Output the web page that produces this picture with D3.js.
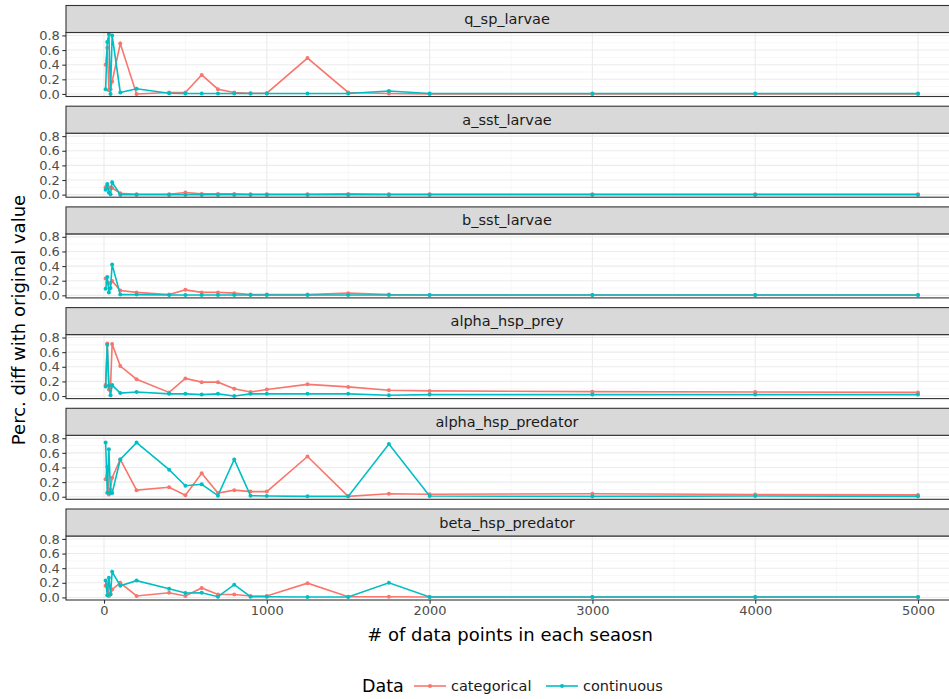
<!DOCTYPE html>
<html><head><meta charset="utf-8">
<script src="https://cdn.jsdelivr.net/npm/d3@7"></script>
<style>body{margin:0;background:#fff;font-family:"DejaVu Sans",sans-serif}</style>
</head><body><svg id="c" width="949" height="699"></svg>
<script>
const xValues = [10,20,30,40,50,100,200,400,500,600,700,800,900,1000,1250,1500,1750,2000,3000,4000,5000];
const panels = ["q_sp_larvae","a_sst_larvae","b_sst_larvae","alpha_hsp_prey","alpha_hsp_predator","beta_hsp_predator"];
const categorical = {
  q_sp_larvae:        [0.40,0.63,0.05,0.065,0.17,0.69,0.0,0.02,0.02,0.26,0.065,0.02,0.01,0.01,0.49,0.02,0.005,0.0,0.0,0.0,0.0],
  a_sst_larvae:       [0.10,0.12,0.08,0.10,0.09,0.02,0.005,0.005,0.03,0.01,0.01,0.01,0.005,0.005,0.005,0.01,0.005,0.005,0.005,0.005,0.005],
  b_sst_larvae:       [0.23,0.18,0.16,0.17,0.195,0.065,0.04,0.01,0.075,0.04,0.04,0.03,0.01,0.01,0.01,0.03,0.01,0.005,0.005,0.005,0.005],
  alpha_hsp_prey:     [0.15,0.72,0.09,0.12,0.71,0.41,0.23,0.05,0.24,0.19,0.19,0.10,0.055,0.09,0.16,0.125,0.08,0.07,0.06,0.055,0.05],
  alpha_hsp_predator: [0.24,0.41,0.03,0.10,0.26,0.51,0.09,0.13,0.02,0.32,0.05,0.09,0.07,0.07,0.55,0.005,0.04,0.035,0.04,0.03,0.025],
  beta_hsp_predator:  [0.16,0.19,0.02,0.05,0.11,0.20,0.02,0.065,0.02,0.13,0.04,0.04,0.02,0.02,0.195,0.01,0.01,0.005,0.005,0.005,0.005]
};
const continuous = {
  q_sp_larvae:        [0.065,0.71,0.82,0.0,0.80,0.02,0.07,0.01,0.005,0.005,0.005,0.005,0.005,0.005,0.005,0.005,0.04,0.005,0.005,0.005,0.005],
  a_sst_larvae:       [0.066,0.145,0.03,0.005,0.17,0.0,0.0,0.0,0.0,0.0,0.0,0.0,0.0,0.0,0.0,0.0,0.0,0.0,0.0,0.0,0.0],
  b_sst_larvae:       [0.09,0.25,0.04,0.10,0.42,0.01,0.01,0.005,0.005,0.005,0.005,0.005,0.005,0.005,0.005,0.005,0.005,0.005,0.005,0.005,0.005],
  alpha_hsp_prey:     [0.13,0.70,0.14,0.01,0.15,0.04,0.055,0.03,0.03,0.02,0.03,0.0,0.03,0.03,0.03,0.03,0.01,0.02,0.02,0.02,0.02],
  alpha_hsp_predator: [0.74,0.055,0.65,0.05,0.05,0.51,0.74,0.37,0.15,0.17,0.015,0.51,0.015,0.01,0.005,0.005,0.72,0.01,0.005,0.01,0.005],
  beta_hsp_predator:  [0.23,0.03,0.27,0.04,0.35,0.16,0.23,0.12,0.06,0.065,0.01,0.175,0.01,0.01,0.005,0.005,0.20,0.005,0.005,0.005,0.005]
};
const xTicks = [0,1000,2000,3000,4000,5000];
const yTicks = [0,0.2,0.4,0.6,0.8];
const seriesNames = ["categorical","continuous"];
const colors = {categorical:"#F8766D", continuous:"#00BFC4"};

const svg = d3.select("#c");
const left = 66, right = 960;
const x = d3.scaleLinear().domain([0,5000]).range([104,918]);
const stripH = 27, panelH = 64, gap = 9.7, top0 = 5.5;
const grey30 = "#4d4d4d";

panels.forEach((name,i)=>{
  const st = top0 + i*(stripH+panelH+gap);
  const pt = st + stripH, pb = pt + panelH;
  const y = d3.scaleLinear().domain([-0.035,0.84]).range([pb,pt]);
  const g = svg.append("g");
  g.append("rect").attr("x",left).attr("y",pt).attr("width",right-left).attr("height",panelH).attr("fill","#fff");
  // minor grid
  d3.range(0.1,0.9,0.2).forEach(v=>g.append("line").attr("x1",left).attr("x2",right).attr("y1",y(v)).attr("y2",y(v)).attr("stroke","#f2f2f2").attr("stroke-width",0.6));
  d3.range(500,5600,1000).concat([-500]).forEach(v=>{ if(x(v)>left) g.append("line").attr("x1",x(v)).attr("x2",x(v)).attr("y1",pt).attr("y2",pb).attr("stroke","#f2f2f2").attr("stroke-width",0.6);});
  yTicks.forEach(v=>g.append("line").attr("x1",left).attr("x2",right).attr("y1",y(v)).attr("y2",y(v)).attr("stroke","#ebebeb").attr("stroke-width",1.1));
  xTicks.forEach(v=>g.append("line").attr("x1",x(v)).attr("x2",x(v)).attr("y1",pt).attr("y2",pb).attr("stroke","#ebebeb").attr("stroke-width",1.1));
  // data
  seriesNames.forEach(s=>{
    const vals = (s==="categorical"?categorical:continuous)[name];
    const pts = xValues.map((xv,k)=>[xv,vals[k]]);
    g.append("path").datum(pts).attr("fill","none").attr("stroke",colors[s]).attr("stroke-width",1.6)
      .attr("d",d3.line().x(d=>x(d[0])).y(d=>y(d[1])));
    g.selectAll(null).data(pts).enter().append("circle").attr("cx",d=>x(d[0])).attr("cy",d=>y(d[1])).attr("r",2).attr("fill",colors[s]);
  });
  g.append("rect").attr("x",left).attr("y",pt).attr("width",right-left).attr("height",panelH).attr("fill","none").attr("stroke","#333").attr("stroke-width",1.1);
  // strip
  g.append("rect").attr("x",left).attr("y",st).attr("width",right-left).attr("height",stripH).attr("fill","#d9d9d9").attr("stroke","#333").attr("stroke-width",1.1);
  g.append("text").attr("x",(left+948)/2).attr("y",st+stripH/2).attr("dy","0.35em").attr("text-anchor","middle")
    .attr("font-size",14.5).attr("fill","#1a1a1a").text(name);
  // y axis
  const ya = g.append("g").attr("transform",`translate(${left},0)`).call(d3.axisLeft(y).tickValues(yTicks).tickFormat(d3.format(".1f")).tickSize(3.7).tickPadding(2.5));
  ya.select(".domain").remove();
  ya.selectAll("line").attr("stroke","#333").attr("stroke-width",1.1);
  ya.selectAll("text").attr("font-size",13).attr("fill",grey30).attr("font-family","DejaVu Sans");
  if(i===panels.length-1){
    const xa = g.append("g").attr("transform",`translate(0,${pb})`).call(d3.axisBottom(x).tickValues(xTicks).tickFormat(d3.format("d")).tickSize(3.7).tickPadding(2.5));
    xa.select(".domain").remove();
    xa.selectAll("line").attr("stroke","#333").attr("stroke-width",1.1);
    xa.selectAll("text").attr("font-size",13).attr("fill",grey30).attr("font-family","DejaVu Sans");
  }
});
// axis titles
svg.append("text").attr("x",510).attr("y",641).attr("text-anchor","middle").attr("font-size",18).attr("fill","#000").text("# of data points in each seaosn");
svg.append("text").attr("transform","translate(25,320) rotate(-90)").attr("text-anchor","middle").attr("font-size",18).attr("fill","#000").text("Perc. diff with original value");
// legend
const lg = svg.append("g");
lg.append("text").attr("x",362).attr("y",692).attr("font-size",17.5).text("Data");
[[414,"categorical"],[546,"continuous"]].forEach(([lx,s])=>{
  lg.append("line").attr("x1",lx).attr("x2",lx+32).attr("y1",686).attr("y2",686).attr("stroke",colors[s]).attr("stroke-width",1.6);
  lg.append("circle").attr("cx",lx+16).attr("cy",686).attr("r",2).attr("fill",colors[s]);
  lg.append("text").attr("x",lx+37).attr("y",686).attr("dy","0.35em").attr("font-size",14.5).attr("fill","#1a1a1a").text(s);
});
</script></body></html>
